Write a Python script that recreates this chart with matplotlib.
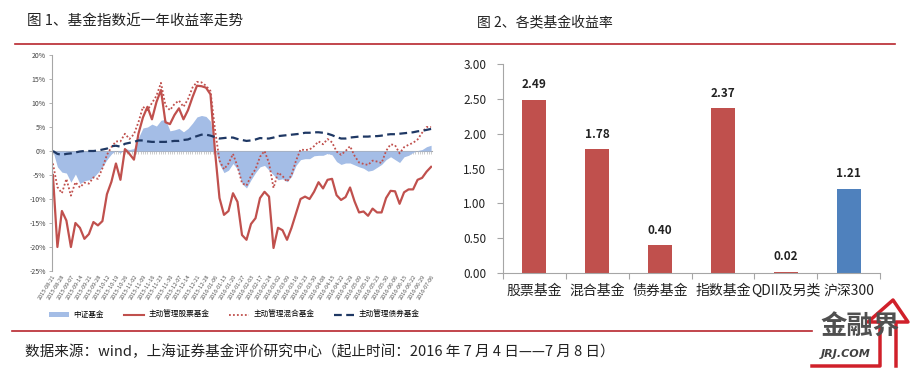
import numpy as np
import matplotlib.pyplot as plt
from matplotlib.lines import Line2D
from matplotlib.patches import Patch

plt.rcParams['font.family'] = ['Noto Sans CJK SC', 'DejaVu Sans']

# ---- 图1 数据 (%) ----
dates = ["2015-08-21", "2015-08-28", "2015-09-07", "2015-09-14", "2015-09-21", "2015-09-28",
         "2015-10-12", "2015-10-19", "2015-10-26", "2015-11-02", "2015-11-09", "2015-11-16",
         "2015-11-23", "2015-11-30", "2015-12-07", "2015-12-14", "2015-12-21", "2015-12-28",
         "2016-01-06", "2016-01-13", "2016-01-20", "2016-01-27", "2016-02-03", "2016-02-17",
         "2016-02-24", "2016-03-02", "2016-03-09", "2016-03-16", "2016-03-23", "2016-03-30",
         "2016-04-08", "2016-04-15", "2016-04-22", "2016-04-29", "2016-05-09", "2016-05-16",
         "2016-05-23", "2016-05-30", "2016-06-06", "2016-06-15", "2016-06-22", "2016-06-29",
         "2016-07-06"]

zz_fund = [0, -3.3, -4.4, -4.6, -6.5, -4.8, -6.8, -6.2, -6.0, -5.5, -4.5, -3.3, -1.8, -0.6, 0.1,
           -0.4, 0.5, 0.3, 0.5, 2.8, 4.8, 5.0, 5.6, 5.2, 6.4, 6.6, 4.2, 4.4, 4.7, 4.0, 4.7, 5.8,
           7.1, 7.4, 7.2, 6.2, 0.5, -2.8, -4.5, -4.0, -2.6, -3.8, -6.8, -7.7, -6.0, -4.5, -3.3,
           -3.0, -4.0, -5.0, -6.0, -5.8, -6.4, -5.3, -3.0, -1.8, -1.6, -1.6, -1.0, -0.9, -0.9,
           -0.5, -0.8, -2.2, -2.8, -2.5, -2.5, -2.9, -3.3, -3.6, -4.2, -4.0, -3.4, -2.8, -1.8,
           -1.2, -1.8, -2.4, -1.2, -0.9, -0.3, 0.1, 0.3, 0.9, 1.2]

stock_fund = [-5.0, -20.0, -12.5, -14.5, -20.0, -15.0, -16.0, -18.3, -17.3, -14.8, -15.5, -14.6,
              -9.0, -6.4, -2.6, -6.0, 0.4, -0.6, -1.8, 3.6, 7.0, 9.2, 6.6, 10.2, 12.7, 6.0, 5.6,
              7.5, 8.9, 6.6, 8.5, 11.2, 13.6, 13.5, 13.2, 11.8, 0.0, -9.8, -13.3, -12.5, -8.8,
              -10.6, -17.5, -18.5, -15.2, -14.0, -9.8, -8.5, -9.5, -20.2, -16.0, -16.5, -18.5,
              -16.0, -13.0, -10.0, -9.5, -10.0, -8.5, -6.5, -7.8, -6.0, -5.8, -9.2, -10.2, -9.6,
              -7.6, -10.5, -12.8, -12.6, -13.5, -12.0, -12.8, -12.8, -9.8, -8.3, -8.4, -11.0,
              -8.6, -8.0, -8.0, -6.0, -5.6, -4.3, -3.3]

mixed_fund = [-2.6, -7.5, -8.8, -5.8, -9.3, -6.5, -7.6, -6.6, -6.8, -5.5, -5.8, -3.6, -0.8, 0.8,
              2.0, 2.0, 3.6, 2.5, 3.5, 6.0, 9.2, 8.5, 10.0, 11.5, 14.2, 9.5, 8.5, 9.8, 10.5, 9.2,
              10.8, 13.2, 14.4, 14.3, 13.6, 12.5, 4.5, -2.0, -3.8, -2.6, -0.6, -3.2, -6.7, -7.2,
              -5.2, -3.8, -1.2, 0.0, -2.5, -7.7, -4.5, -5.2, -6.4, -5.0, -2.0, 0.3, 0.2, 0.3, 1.0,
              2.0, 1.4, 2.5, 1.8, -0.1, -0.8, 0.0, 1.0, -1.0, -2.4, -2.7, -2.9, -2.0, -2.2, -2.5,
              0.0, 1.4, 1.2, -0.5, 0.8, 1.3, 1.7, 2.4, 3.8, 5.0, 5.0]

bond_fund = [0, -0.6, -0.8, -0.6, -0.5, -0.3, -0.1, 0, 0, 0, 0.1, 0.3, 0.5, 1.0, 1.1, 0.9, 1.5,
             1.7, 1.9, 2.2, 2.2, 2.0, 1.9, 1.9, 1.9, 1.9, 2.0, 2.1, 2.1, 2.3, 2.4, 2.8, 3.1, 3.4,
             3.4, 3.2, 2.9, 2.6, 2.7, 2.8, 2.8, 2.5, 2.3, 2.1, 2.2, 2.4, 2.7, 2.6, 2.6, 2.8, 3.1,
             3.2, 3.3, 3.4, 3.5, 3.6, 3.8, 3.8, 3.9, 3.9, 3.8, 3.6, 3.3, 2.9, 2.6, 2.6, 2.8, 2.9,
             3.0, 3.0, 3.0, 3.1, 3.1, 3.2, 3.4, 3.5, 3.5, 3.6, 3.7, 3.8, 3.9, 4.1, 4.2, 4.4, 4.6]

# ---- 图2 数据 ----
categories = ['股票基金', '混合基金', '债券基金', '指数基金', 'QDII及另类', '沪深300']
returns = [2.49, 1.78, 0.40, 2.37, 0.02, 1.21]
bar_colors = ['#C0504D'] * 5 + ['#4F81BD']

RED = '#C0504D'
LINE_RED = '#B8262E'
GREY = '#A6A6A6'

fig = plt.figure(figsize=(9.15, 3.69), dpi=100)

# titles and separators
fig.text(27 / 915, 1 - 22 / 369, '图 1、基金指数近一年收益率走势', fontsize=10.5, va='center', color='#222222')
fig.text(477 / 915, 1 - 22 / 369, '图 2、各类基金收益率', fontsize=10, va='center', color='#222222')
fig.add_artist(Line2D([15 / 915, 895 / 915], [1 - 43.5 / 369] * 2, color=LINE_RED, lw=1.2))
fig.add_artist(Line2D([12 / 915, 812 / 915], [1 - 331 / 369] * 2, color=LINE_RED, lw=1.2))
fig.text(25 / 915, 1 - 352 / 369,
         '数据来源：wind，上海证券基金评价研究中心（起止时间：2016 年 7 月 4 日——7 月 8 日）',
         fontsize=10.5, va='center', style='italic', color='#222222')

# logo
fig.text(860 / 915, 1 - 327 / 369, '金融界', fontsize=19, fontweight='bold', color='#505050',
         ha='center', va='center')
fig.text(846 / 915, 1 - 354 / 369, 'JRJ.COM', fontsize=8, fontweight='bold', style='italic',
         color='#404040', ha='center', va='center', family='DejaVu Sans')
fig.add_artist(Line2D([812 / 915, 880 / 915, 880 / 915, 868 / 915, 893 / 915, 908 / 915, 896 / 915, 896 / 915],
                      [1 - 366 / 369, 1 - 366 / 369, 1 - 322 / 369, 1 - 322 / 369,
                       1 - 300 / 369, 1 - 322 / 369, 1 - 322 / 369, 1 - 366 / 369],
                      color='#D0202A', lw=2.5))

# ---- 左图 ----
ax1 = fig.add_axes([52 / 915, 1 - 271 / 369, 380 / 915, 216 / 369])
x = np.arange(len(stock_fund))
ax1.fill_between(x, 0, zz_fund, color='#A4BDE6', lw=0, label='中证基金')
ax1.plot(x, stock_fund, color=RED, lw=1.6, label='主动管理股票基金')
ax1.plot(x, mixed_fund, color=RED, lw=1.3, ls=(0, (1, 1.2)), label='主动管理混合基金')
ax1.plot(x, bond_fund, color='#1F3864', lw=1.6, ls=(0, (3.5, 2)), label='主动管理债券基金')

ax1.set_xlim(-0.2, len(x) - 0.8)
ax1.set_ylim(-25, 20)
ax1.set_yticks(np.arange(-25, 21, 5))
ax1.set_yticklabels(['%d%%' % v for v in np.arange(-25, 21, 5)], fontsize=5, color='#404040')
ax1.set_xticks(x[::2])
ax1.set_xticklabels(dates, rotation=58, ha='right', va='top', rotation_mode='anchor',
                    fontsize=4, color='#505050')
ax1.tick_params(axis='x', length=0, pad=2)
ax1.tick_params(axis='y', length=2.5, width=0.6, color=GREY, pad=2)
for s in ['top', 'right', 'bottom']:
    ax1.spines[s].set_visible(False)
ax1.spines['left'].set_color(GREY)
ax1.spines['left'].set_linewidth(0.8)

zero_axis = ax1.secondary_xaxis(25 / 45)
zero_axis.set_xticks(np.arange(0, len(x) - 0.9, 0.5))
zero_axis.tick_params(length=2, width=0.4, color=GREY, direction='in', labelbottom=False, labeltop=False)
zero_axis.spines['top'].set_color(GREY)
zero_axis.spines['bottom'].set_color(GREY)
zero_axis.set_xticklabels([])

handles = [Patch(facecolor='#A4BDE6', edgecolor='none'),
           Line2D([], [], color=RED, lw=1.5),
           Line2D([], [], color=RED, lw=1.3, ls=(0, (1, 1.2))),
           Line2D([], [], color='#1F3864', lw=1.6, ls=(0, (3.5, 2)))]
ax1.legend(handles, ['中证基金', '主动管理股票基金', '主动管理混合基金', '主动管理债券基金'],
           loc='center', bbox_to_anchor=(0.48, -0.205), ncol=4, frameon=False, fontsize=5.5,
           handlelength=2.6, handleheight=0.6, columnspacing=2.6, handletextpad=0.6)

# ---- 右图 ----
ax2 = fig.add_axes([503 / 915, 1 - 273 / 369, 377 / 915, 209 / 369])
pos = np.arange(len(categories))
bars = ax2.bar(pos, returns, width=0.38, color=bar_colors)
for b, v in zip(bars, returns):
    ax2.text(b.get_x() + b.get_width() / 2, v + 0.12, '%.2f' % v, ha='center', va='bottom',
             fontsize=8.5, fontweight='bold', color='#222222')
ax2.set_xlim(-0.5, len(categories) - 0.5)
ax2.set_ylim(0, 3)
ax2.set_yticks(np.arange(0, 3.01, 0.5))
ax2.set_yticklabels(['%.2f' % v for v in np.arange(0, 3.01, 0.5)], fontsize=8.5, color='#222222')
ax2.set_xticks(pos)
ax2.set_xticklabels(categories, fontsize=10, color='#222222')
ax2.set_xticks(np.arange(-0.5, len(categories), 1), minor=True)
ax2.tick_params(axis='x', which='major', length=0, pad=8)
ax2.tick_params(axis='x', which='minor', length=4, width=0.8, color=GREY)
ax2.tick_params(axis='y', length=4, width=0.8, color=GREY, pad=8)
for s in ['top', 'right']:
    ax2.spines[s].set_visible(False)
for s in ['left', 'bottom']:
    ax2.spines[s].set_color(GREY)
    ax2.spines[s].set_linewidth(0.8)

fig.savefig('out.png', dpi=100)
